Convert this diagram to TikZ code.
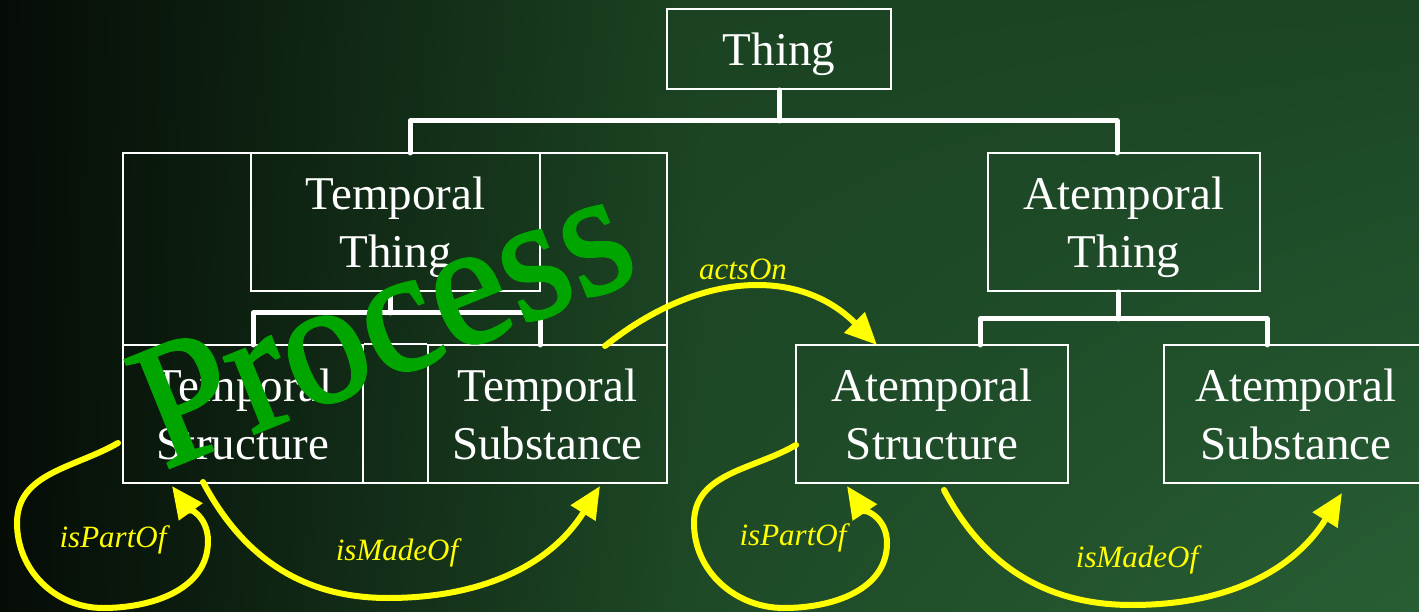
\documentclass[tikz,border=0pt]{standalone}
\usepackage{fontspec}
\setmainfont{Liberation Serif}
\newfontfamily\procfont[FakeBold=1.5]{Liberation Serif}
\usetikzlibrary{arrows.meta,calc,shadings}
\definecolor{bgA}{HTML}{050C06}
\definecolor{bgB}{HTML}{1B4322}
\definecolor{bgBb}{HTML}{1E4A27}
\definecolor{bgC}{HTML}{1B4524}
\definecolor{bgCb}{HTML}{285E34}
\definecolor{relyellow}{HTML}{FFFF00}
\definecolor{procgreen}{RGB}{0,165,0}
\begin{document}
\begin{tikzpicture}[x=1pt,y=-1pt,
  box/.style={draw=white, line width=2pt, text=white, inner sep=0pt, align=center,
    font=\fontsize{47}{58}\selectfont, text depth=0pt},
  tree/.style={draw=white, line width=5pt, line cap=round, line join=round},
  rel/.style={draw=relyellow, line width=6pt, line cap=round,
    -{Triangle[length=32pt,width=28pt]}},
  rellabel/.style={text=relyellow, font=\fontsize{31}{36}\selectfont\itshape, inner sep=0pt}]
\useasboundingbox (0,0) rectangle (1419,612);
\clip (0,0) rectangle (1419,612);
\shade[upper left=bgA, lower left=bgA, upper right=bgB, lower right=bgBb] (0,0) rectangle (701,612);
\shade[upper left=bgB, lower left=bgBb, upper right=bgC, lower right=bgCb] (700,0) rectangle (1419,612);

% boxes
\node[box, minimum width=224pt, minimum height=80pt] (thing) at (779,49) {Thing};
\node[box, minimum width=544pt, minimum height=330pt] (proc) at (395,318) {};
\node[box, minimum width=289pt, minimum height=138pt] (tthing) at (395.5,222) {Temporal\\Thing};
\node[box, minimum width=240pt, minimum height=138pt] (tstruct) at (243,414) {Temporal\\Structure};
\node[box, minimum width=239pt, minimum height=138pt] (tsubst) at (547.5,414) {Temporal\\Substance};
\draw[white, line width=2pt] (tstruct.north east) -- (tsubst.north west);
\node[box, minimum width=272pt, minimum height=138pt] (athing) at (1124,222) {Atemporal\\Thing};
\node[box, minimum width=272pt, minimum height=138pt] (astruct) at (932,414) {Atemporal\\Structure};
\node[box, minimum width=264pt, minimum height=138pt] (asubst) at (1296,414) {Atemporal\\Substance};

% tree connectors
\coordinate (thingbar) at (779,121);
\coordinate (procjoin) at (410,153);
\coordinate (athjoin) at (1117,153);
\draw[tree] (thing.south) -- (thingbar);
\draw[tree] (procjoin) |- (thingbar) -| (athjoin);

\coordinate (tbar) at (390,313);
\coordinate (tjl) at (253,345);
\coordinate (tjr) at (540,345);
\draw[tree] (tthing.south -| tbar) -- (tbar);
\draw[tree] (tjl) |- (tbar) -| (tjr);

\coordinate (abar) at (1118,319);
\coordinate (ajl) at (980,345);
\coordinate (ajr) at (1267,345);
\draw[tree] (athing.south -| abar) -- (abar);
\draw[tree] (ajl) |- (abar) -| (ajr);

% Process label
\node[text=procgreen, font=\procfont\fontsize{178}{182}\selectfont, rotate=22, xscale=0.95,
  anchor=base west, inner sep=0pt] (process) at (164,470) {Process};

% relations
\coordinate (actsA) at (605,346);
\coordinate (actsB) at (877,345);
\draw[rel] (actsA) .. controls (700,270) and (800,268) .. (actsB);
\node[rellabel] (actsOnLbl) at (743,269) {actsOn};

\coordinate (lpA) at (118,443);
\coordinate (lpB) at (172,486);
\draw[rel] (lpA) to[out=210,in=90] (17,523) to[out=270,in=180] (103,608)
  to[out=0,in=270] (208,541) to[out=90,in=-54] (lpB);
\node[rellabel] (lpLbl) at (113,540) {isPartOf};

\coordinate (lmA) at (203,482);
\coordinate (lmB) at (600,486);
\draw[rel] (lmA) to[out=-62,in=180] (388,598) to[out=0,in=238] (lmB);
\node[rellabel] (lmLbl) at (397,553) {isMadeOf};

\coordinate (rpA) at (796,445);
\coordinate (rpB) at (847,486);
\draw[rel] (rpA) to[out=210,in=90] (694,523) to[out=270,in=180] (784,608)
  to[out=0,in=270] (887,543) to[out=90,in=-56] (rpB);
\node[rellabel] (rpLbl) at (793,538) {isPartOf};

\coordinate (rmA) at (944,490);
\coordinate (rmB) at (1342,493);
\draw[rel] (rmA) to[out=-62,in=180] (1132,605) to[out=0,in=238] (rmB);
\node[rellabel] (rmLbl) at (1137,560) {isMadeOf};
\end{tikzpicture}
\end{document}
